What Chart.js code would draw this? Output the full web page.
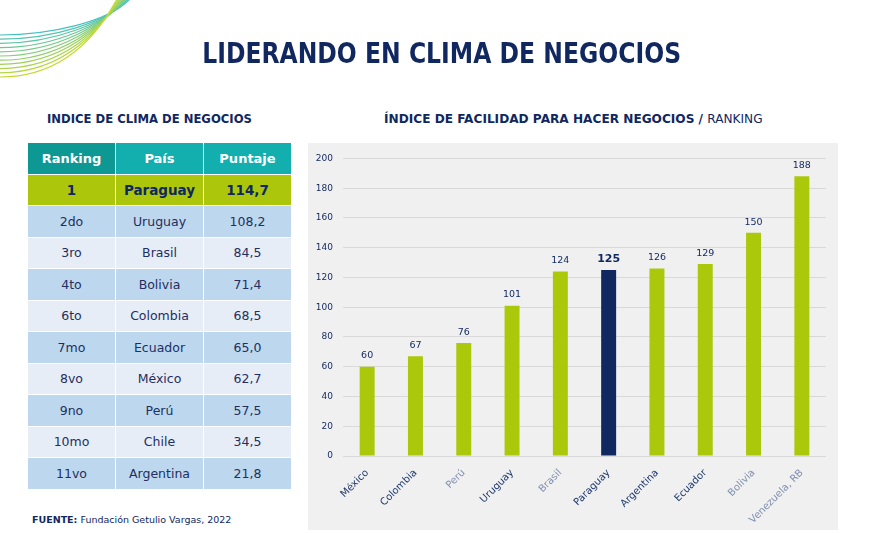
<!DOCTYPE html>
<html>
<head>
<meta charset="utf-8">
<script src="https://cdn.jsdelivr.net/npm/chart.js@4/dist/chart.umd.min.js"></script>
<style>
  body { margin: 0; width: 884px; height: 533px; background: #fff; position: relative; overflow: hidden; font-family: "DejaVu Sans", sans-serif; color: #1f2f5f; }
  #deco { position: absolute; left: 0; top: 0; }
  #title { position: absolute; left: 0; width: 884px; top: 36px; text-align: center; }
  #title span { display: inline-block; font-weight: bold; font-size: 29px; color: #10275f; transform: scaleX(0.81); white-space: nowrap; }
  .sub { position: absolute; top: 111px; font-weight: bold; font-size: 12.5px; color: #10275f; white-space: nowrap; transform-origin: left top; }
  #sub1 { left: 47px; transform: scaleX(0.93); }
  #sub2 { left: 384px; transform: scaleX(0.97); }
  #sub2 .reg { font-weight: normal; }
  table { position: absolute; left: 27px; top: 142px; border-collapse: collapse; }
  td, th { width: 87px; height: 30.5px; padding: 0; text-align: center; font-size: 12.5px; border: 1.5px solid #fff; color: #1f2f5f; }
  th { color: #fff; background: #13afae; font-size: 13px; }
  th.first { background: #0e9893; }
  tr.top td { background: #acc70b; font-weight: bold; color: #10275f; font-size: 13.5px; }
  tr.a td { background: #bdd7ee; }
  tr.b td { background: #e7edf6; }
  #src { position: absolute; left: 32px; top: 514px; font-size: 9.5px; color: #10275f; }
  #panel { position: absolute; left: 308px; top: 143px; width: 530px; height: 387px; background: #f0f0f0; }
</style>
</head>
<body>
<canvas id="deco" width="140" height="90"></canvas>
<div id="title"><span>LIDERANDO EN CLIMA DE NEGOCIOS</span></div>
<div class="sub" id="sub1">INDICE DE CLIMA DE NEGOCIOS</div>
<div class="sub" id="sub2">ÍNDICE DE FACILIDAD PARA HACER NEGOCIOS / <span class="reg">RANKING</span></div>
<table id="tbl"></table>
<div id="src"><b>FUENTE:</b> Fundación Getulio Vargas, 2022</div>
<div id="panel"><canvas id="chart" width="530" height="387"></canvas></div>
<script>
// tabla: indice de clima de negocios
var rankLabels = ['1', '2do', '3ro', '4to', '6to', '7mo', '8vo', '9no', '10mo', '11vo'];
var rankCountries = ['Paraguay', 'Uruguay', 'Brasil', 'Bolivia', 'Colombia', 'Ecuador', 'México', 'Perú', 'Chile', 'Argentina'];
var rankScores = ['114,7', '108,2', '84,5', '71,4', '68,5', '65,0', '62,7', '57,5', '34,5', '21,8'];

// grafico: facilidad para hacer negocios
var countries = ['México', 'Colombia', 'Perú', 'Uruguay', 'Brasil', 'Paraguay', 'Argentina', 'Ecuador', 'Bolivia', 'Venezuela, RB'];
var ranking = [60, 67, 76, 101, 124, 125, 126, 129, 150, 188];
var yTicks = [0, 20, 40, 60, 80, 100, 120, 140, 160, 180, 200];

var lime = '#acc80b';
var navy = '#10275f';

// armar tabla
var html = '<tr><th class="first">Ranking</th><th>País</th><th>Puntaje</th></tr>';
for (var i = 0; i < rankLabels.length; i++) {
  var cls = i == 0 ? 'top' : (i % 2 == 1 ? 'a' : 'b');
  html += '<tr class="' + cls + '"><td>' + rankLabels[i] + '</td><td>' + rankCountries[i] + '</td><td>' + rankScores[i] + '</td></tr>';
}
document.getElementById('tbl').innerHTML = html;

// lineas decorativas (teal arriba, lima abajo)
var dc = document.getElementById('deco').getContext('2d');
for (var k = 0; k < 11; k++) {
  var t = k / 10;
  var r = Math.round(69 + (195 - 69) * t), gr = Math.round(193 + (217 - 193) * t), b = Math.round(192 + (46 - 192) * t);
  dc.strokeStyle = 'rgb(' + r + ',' + gr + ',' + b + ')';
  dc.lineWidth = 1.2;
  var y0 = 35 + k * 4.2;
  dc.beginPath();
  dc.moveTo(0, y0);
  dc.bezierCurveTo(50 + k * 2, y0, 108 - k * 0.5, 22 + k * 0.3, 130 - k * 1.3, -1);
  dc.stroke();
}

var barColors = countries.map(function(c) { return c == 'Paraguay' ? navy : lime; });
var tickColors = ['#1f3a6e', '#1f3a6e', '#8090b0', '#1f3a6e', '#8090b0', '#1f3a6e', '#1f3a6e', '#1f3a6e', '#8090b0', '#8090b0'];

var valueLabels = {
  id: 'valueLabels',
  afterDatasetsDraw: function(chart) {
    var ctx = chart.ctx;
    var meta = chart.getDatasetMeta(0);
    ctx.save();
    ctx.textAlign = 'center';
    ctx.textBaseline = 'bottom';
    meta.data.forEach(function(bar, i) {
      var bold = countries[i] == 'Paraguay';
      ctx.font = bold ? 'bold 11px "DejaVu Sans"' : '9.5px "DejaVu Sans"';
      ctx.fillStyle = navy;
      ctx.fillText(ranking[i], bar.x, bar.y - (bold ? 5 : 6));
    });
    ctx.restore();
  }
};

new Chart(document.getElementById('chart'), {
  type: 'bar',
  data: {
    labels: countries,
    datasets: [{
      data: ranking,
      backgroundColor: barColors,
      barPercentage: 0.62,
      categoryPercentage: 0.5
    }]
  },
  options: {
    responsive: false,
    animation: false,
    devicePixelRatio: 1,
    layout: { padding: { top: 13, right: 12, left: 0, bottom: 0 } },
    plugins: { legend: { display: false }, tooltip: { enabled: false } },
    scales: {
      x: {
        grid: { display: false },
        border: { display: false },
        ticks: {
          minRotation: 45, maxRotation: 45,
          font: { family: 'DejaVu Sans', size: 10 },
          color: function(c) { return tickColors[c.index]; }
        },
        afterFit: function(s) { s.height = 74; }
      },
      y: {
        min: 0, max: 200,
        afterBuildTicks: function(s) { s.ticks = yTicks.map(function(v) { return { value: v }; }); },
        grid: { color: '#d9d9d9', drawTicks: false },
        border: { display: false },
        ticks: { color: navy, font: { family: 'DejaVu Sans', size: 9 }, padding: 10 },
        afterFit: function(s) { s.width = 35; }
      }
    }
  },
  plugins: [valueLabels]
});
</script>
</body>
</html>
